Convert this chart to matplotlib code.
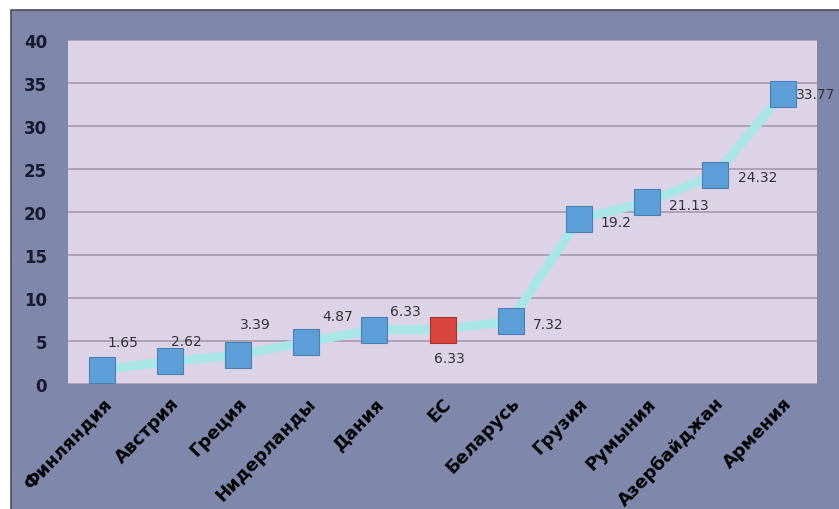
import matplotlib
matplotlib.use("Agg")
import matplotlib.pyplot as plt
from matplotlib.patches import Rectangle
from matplotlib.transforms import ScaledTranslation

categories = ["Финляндия", "Австрия", "Греция", "Нидерланды", "Дания", "ЕС",
              "Беларусь", "Грузия", "Румыния", "Азербайджан", "Армения"]
values = [1.65, 2.62, 3.39, 4.87, 6.33, 6.33, 7.32, 19.2, 21.13, 24.32, 33.77]
labels = ["1.65", "2.62", "3.39", "4.87", "6.33", "6.33", "7.32", "19.2", "21.13", "24.32", "33.77"]
yticks = [0, 5, 10, 15, 20, 25, 30, 35, 40]
highlight = "ЕС"

W, H = 839, 510
fig = plt.figure(figsize=(W / 100, H / 100), dpi=100)
fig.patch.set_facecolor("white")
bg = fig.add_axes([0, 0, 1, 1], zorder=0)
bg.set_xlim(0, W)
bg.set_ylim(H, 0)
bg.axis("off")
bg.add_patch(Rectangle((11, 11), 840, 510, facecolor="#7f88ab",
                       edgecolor="#4a4d5a", linewidth=1.2))

ax = fig.add_axes([68 / W, (H - 385) / H, 749 / W, 344 / H], zorder=1)
ax.set_facecolor("#dcd3e6")
x = list(range(len(categories)))
ax.plot(x, values, color="#a8e6e8", linewidth=6.5, zorder=2, solid_capstyle="round")
for xi, v, c in zip(x, values, categories):
    col = "#d9453d" if c == highlight else "#5c9fd8"
    ax.plot([xi], [v], marker="s", markersize=18.5, color=col,
            markeredgecolor="#4a7fb0" if c != highlight else "#a8322c",
            markeredgewidth=0.8, zorder=3)

# label offsets (pixels) relative to the point
offsets = [(5, 28), (1, 20), (2, 31), (16, 26), (16, 19), (-9, -28),
           (22, -3), (22, -3), (22, -3), (23, -2), (13, 0)]
for xi, v, lab, (dx, dy) in zip(x, values, labels, offsets):
    ax.annotate(lab, (xi, v), xytext=(dx, dy), textcoords="offset pixels",
                ha="left", va="center",
                fontsize=10, color="#333333", zorder=4, annotation_clip=False)

ax.set_xlim(-0.5, len(categories) - 0.5)
ax.set_ylim(0, 40)
ax.set_yticks(yticks)
ax.set_yticklabels([str(t) for t in yticks], fontsize=12, fontweight="bold", color="#1a1a2e")
ax.set_xticks(x)
ax.set_xticklabels(categories, rotation=46, ha="right", va="top", rotation_mode="anchor",
                   fontsize=13, fontweight="bold", color="black")
shift = ScaledTranslation(12 / 100, 0, fig.dpi_scale_trans)
for t in ax.get_xticklabels():
    t.set_transform(t.get_transform() + shift)
ax.tick_params(axis="both", length=0)
ax.tick_params(axis="y", pad=15)
ax.tick_params(axis="x", pad=7)
ax.yaxis.grid(True, color="#a797ad", linewidth=1.2)
ax.set_axisbelow(True)
for s in ax.spines.values():
    s.set_visible(False)

fig.savefig("out.png", dpi=100)
